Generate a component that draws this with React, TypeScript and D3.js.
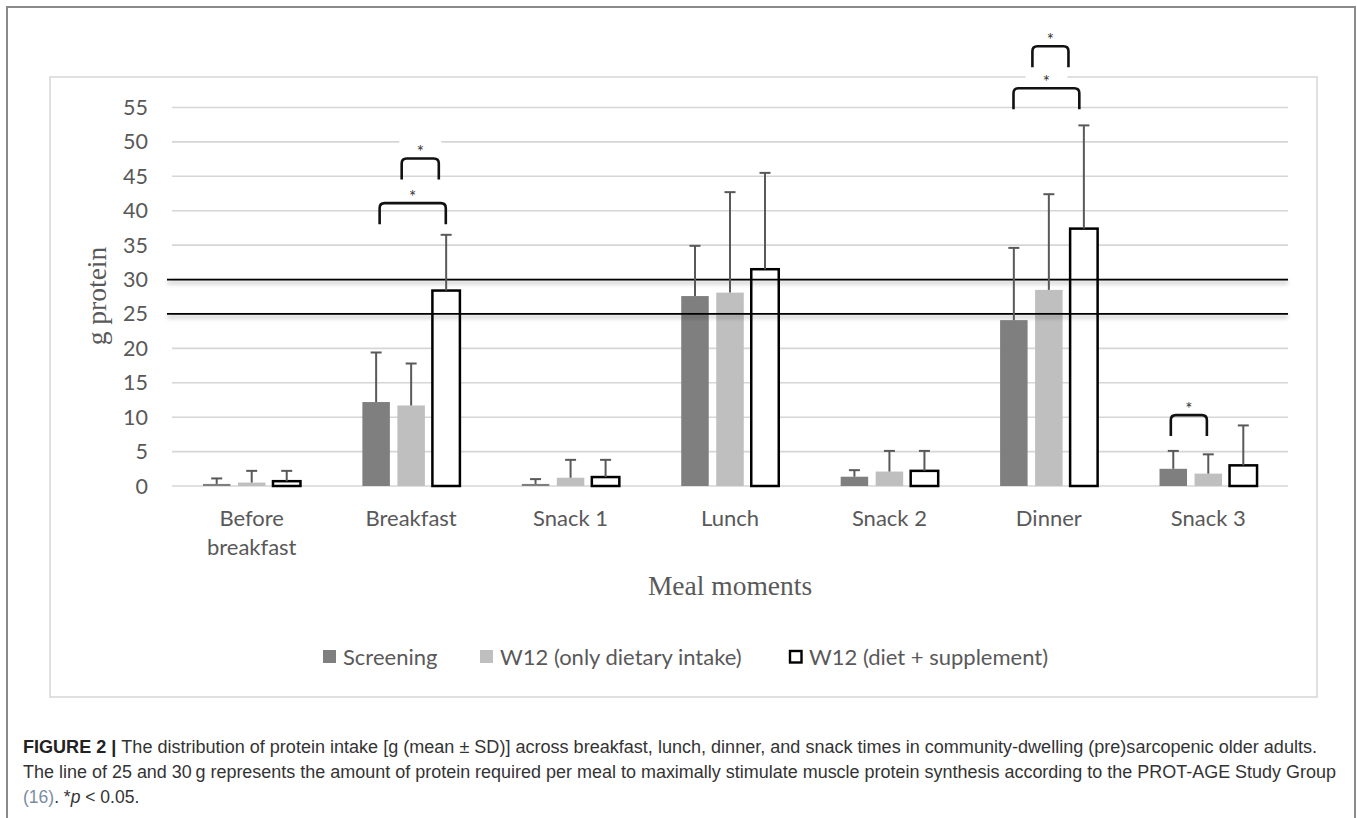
import React from "react";
import * as d3 from "d3";

// ---------- data ----------
const categories = ["Before breakfast", "Breakfast", "Snack 1", "Lunch", "Snack 2", "Dinner", "Snack 3"];
const seriesNames = ["Screening", "W12 (only dietary intake)", "W12 (diet + supplement)"];
const screeningMean = [0.3, 12.2, 0.3, 27.6, 1.35, 24.1, 2.5];
const screeningSD = [0.8, 7.2, 0.7, 7.3, 0.95, 10.5, 2.6];
const dietMean = [0.5, 11.7, 1.2, 28.1, 2.1, 28.5, 1.8];
const dietSD = [1.7, 6.1, 2.6, 14.6, 3.0, 13.9, 2.8];
const suppMean = [0.7, 28.4, 1.3, 31.5, 2.2, 37.4, 3.0];
const suppSD = [1.5, 8.1, 2.5, 14.0, 2.9, 15.0, 5.8];
const yTicks = [0, 5, 10, 15, 20, 25, 30, 35, 40, 45, 50, 55];
const referenceLines = [25, 30];
// significance brackets: category, span in series-slot units, bracket level (g)
const bracketCats = ["Breakfast", "Breakfast", "Dinner", "Dinner", "Snack 3"];
const bracketFrom = [0.73, 0.1, 0.53, -0.01, -0.07];
const bracketTo = [1.79, 1.99, 1.56, 1.87, 0.96];
const bracketLevel = [47.6, 41.1, 63.9, 57.8, 10.3];
const bracketLabel = ["*", "*", "*", "*", "*"];

const captionLine1Bold = "FIGURE 2 | ";
const captionLine1 = "The distribution of protein intake [g (mean \u00b1 SD)] across breakfast, lunch, dinner, and snack times in community-dwelling (pre)sarcopenic older adults.";
const captionLine2 = "The line of 25 and 30\u2009g represents the amount of protein required per meal to maximally stimulate muscle protein synthesis according to the PROT-AGE Study Group";

// ---------- styles ----------
const W = 1357;
const H = 818;
const fills = ["#7f7f7f", "#bfbfbf", "#ffffff"];
const sans = "Lato, 'Open Sans', sans-serif";
const serif = "'Liberation Serif', 'DejaVu Serif', serif";
const capFont = "'Liberation Sans', Arial, sans-serif";
const textGray = "#595959";

export default function App() {
  const x = d3.scaleBand<string>().domain(categories).range([172, 1288]).padding(0);
  const y = d3.scaleLinear().domain([0, 55]).range([486, 107.5]);
  const bw = x.bandwidth();
  const stride = bw * 0.2196;
  const barW = bw * 0.1725;
  const slotX = (cat: string, slot: number) => (x(cat) as number) + bw / 2 + (slot - 1) * stride;

  const means = [screeningMean, dietMean, suppMean];
  const sds = [screeningSD, dietSD, suppSD];
  const legHeight = y(0) - y(3.05);

  return (
    <div style={{ position: "absolute", left: 0, top: 0 }}>
      <svg width={W} height={H} style={{ display: "block", background: "#fff" }}>
        <defs>
          <filter id="refShadow" filterUnits="userSpaceOnUse" x={0} y={0} width={W} height={H}>
            <feDropShadow dx={0} dy={3} stdDeviation={2.2} floodColor="#000" floodOpacity={0.35} />
          </filter>
        </defs>
        <rect x={0} y={0} width={W} height={H} fill="#fff" />
        {/* outer figure border */}
        <path d={`M7,${H} V7 H1355 V${H}`} fill="none" stroke="#8a8a8a" strokeWidth={2} />
        {/* chart area border */}
        <rect x={50} y={77} width={1267} height={620} fill="none" stroke="#d9d9d9" strokeWidth={1.6} />

        {/* gridlines */}
        {yTicks.map((t) => (
          <line key={"g" + t} x1={172} x2={1288} y1={y(t)} y2={y(t)} stroke="#d6d6d6" strokeWidth={1.6} />
        ))}
        {/* y tick labels */}
        {yTicks.map((t) => (
          <text key={"t" + t} x={148} y={y(t) + 7.5} textAnchor="end" fontFamily={sans} fontSize={21.5} fill={textGray}>
            {t}
          </text>
        ))}

        {/* bars */}
        {categories.map((cat, ci) =>
          means.map((m, si) => {
            const cx = slotX(cat, si);
            const top = y(m[ci]);
            return si === 2 ? (
              <rect key={`b${ci}-${si}`} x={cx - barW / 2} y={top} width={barW} height={y(0) - top} fill="#fff" stroke="#000" strokeWidth={2.5} />
            ) : (
              <rect key={`b${ci}-${si}`} x={cx - barW / 2} y={top} width={barW} height={y(0) - top} fill={fills[si]} />
            );
          })
        )}

        {/* reference lines */}
        {referenceLines.map((r) => (
          <line key={"r" + r} x1={167} x2={1288} y1={y(r)} y2={y(r)} stroke="#000" strokeWidth={1.7} filter="url(#refShadow)" />
        ))}

        {/* error bars */}
        {categories.map((cat, ci) =>
          means.map((m, si) => {
            const cx = slotX(cat, si);
            const top = y(m[ci]);
            const et = y(m[ci] + sds[si][ci]);
            return (
              <g key={`e${ci}-${si}`} stroke="#595959" strokeWidth={2}>
                <line x1={cx} x2={cx} y1={top} y2={et} />
                <line x1={cx - 5.5} x2={cx + 5.5} y1={et} y2={et} />
              </g>
            );
          })
        )}

        {/* significance brackets */}
        {bracketCats.map((cat, i) => {
          const x1 = slotX(cat, bracketFrom[i]);
          const x2 = slotX(cat, bracketTo[i]);
          const top = y(bracketLevel[i]);
          const bot = top + legHeight;
          const r = 5;
          const mid = (x1 + x2) / 2;
          return (
            <g key={"br" + i}>
              <rect x={mid - 21} y={top - 20} width={42} height={18} fill="#fff" />
              <path
                d={`M${x1},${bot} V${top + r} Q${x1},${top} ${x1 + r},${top} H${x2 - r} Q${x2},${top} ${x2},${top + r} V${bot}`}
                fill="none"
                stroke="#111"
                strokeWidth={2.6}
              />
              <text x={mid} y={top - 0.5} textAnchor="middle" fontFamily={sans} fontSize={17} fill="#333">
                {bracketLabel[i]}
              </text>
            </g>
          );
        })}

        {/* category labels */}
        {categories.map((cat) => {
          const words = cat === "Before breakfast" ? ["Before", "breakfast"] : [cat];
          return (
            <text key={"c" + cat} x={(x(cat) as number) + bw / 2} y={525.5} textAnchor="middle" fontFamily={sans} fontSize={22} fill={textGray}>
              {words.map((w, i) => (
                <tspan key={i} x={(x(cat) as number) + bw / 2} dy={i === 0 ? 0 : 29}>
                  {w}
                </tspan>
              ))}
            </text>
          );
        })}

        {/* axis titles */}
        <text x={730} y={595} textAnchor="middle" fontFamily={serif} fontSize={27.5} fill={textGray}>
          Meal moments
        </text>
        <text transform="translate(106,296) rotate(-90)" textAnchor="middle" fontFamily={serif} fontSize={27.5} fill={textGray}>
          g protein
        </text>

        {/* legend */}
        {seriesNames.map((name, i) => {
          const lx = [323, 480, 789][i];
          return (
            <g key={"l" + i}>
              {i === 2 ? (
                <rect x={lx + 1} y={651} width={11.5} height={11.5} fill="#fff" stroke="#000" strokeWidth={2.4} />
              ) : (
                <rect x={lx} y={650} width={13} height={13} fill={fills[i]} />
              )}
              <text x={lx + 20} y={665} fontFamily={sans} fontSize={22} fill={textGray}>
                {name}
              </text>
            </g>
          );
        })}

        {/* caption */}
        <text x={23} y={753} fontFamily={capFont} fontSize={17.5} fill="#333" textLength={1294} lengthAdjust="spacingAndGlyphs">
          <tspan fontWeight="bold" fill="#222">{captionLine1Bold}</tspan>
          <tspan>{captionLine1}</tspan>
        </text>
        <text x={23} y={778} fontFamily={capFont} fontSize={17.5} fill="#333" textLength={1313} lengthAdjust="spacingAndGlyphs">
          {captionLine2}
        </text>
        <text x={23} y={803} fontFamily={capFont} fontSize={17.5} fill="#333">
          <tspan fill="#7b8da3">(16)</tspan>
          <tspan>. *</tspan>
          <tspan fontStyle="italic">p</tspan>
          <tspan>{" < 0.05."}</tspan>
        </text>
      </svg>
    </div>
  );
}
